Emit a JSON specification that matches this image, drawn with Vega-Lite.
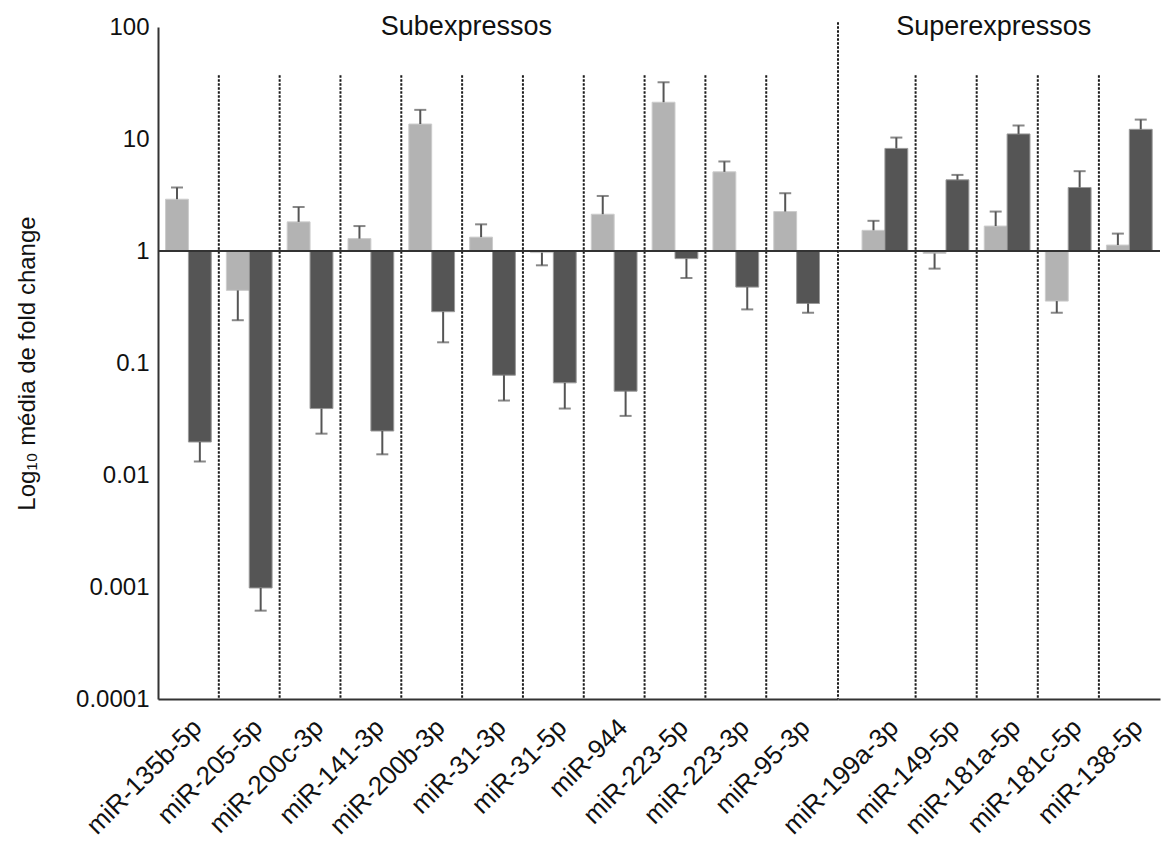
{
  "$schema": "https://vega.github.io/schema/vega-lite/v6.json",
  "padding": {"left": 15, "top": 13, "right": 0, "bottom": 5},
  "spacing": 0,
  "bounds": "flush",
  "config": {
    "font": "Liberation Sans",
    "view": {"stroke": null},
    "axis": {"grid": false, "ticks": false, "domainColor": "#333333", "domainWidth": 2, "labelColor": "#111111", "labelFontSize": 24, "titleFontSize": 24, "titleFontWeight": "normal", "titleColor": "#111111"}
  },
  "data": {"values": [
    {"mir": "miR-135b-5p", "section": "Sub", "group": "light", "value": 2.9, "err": 3.69},
    {"mir": "miR-135b-5p", "section": "Sub", "group": "dark", "value": 0.0197, "err": 0.0132},
    {"mir": "miR-205-5p", "section": "Sub", "group": "light", "value": 0.445, "err": 0.241},
    {"mir": "miR-205-5p", "section": "Sub", "group": "dark", "value": 0.00098, "err": 0.000615},
    {"mir": "miR-200c-3p", "section": "Sub", "group": "light", "value": 1.82, "err": 2.47},
    {"mir": "miR-200c-3p", "section": "Sub", "group": "dark", "value": 0.0392, "err": 0.0234},
    {"mir": "miR-141-3p", "section": "Sub", "group": "light", "value": 1.29, "err": 1.67},
    {"mir": "miR-141-3p", "section": "Sub", "group": "dark", "value": 0.0247, "err": 0.0153},
    {"mir": "miR-200b-3p", "section": "Sub", "group": "light", "value": 13.6, "err": 18.2},
    {"mir": "miR-200b-3p", "section": "Sub", "group": "dark", "value": 0.287, "err": 0.153},
    {"mir": "miR-31-3p", "section": "Sub", "group": "light", "value": 1.33, "err": 1.73},
    {"mir": "miR-31-3p", "section": "Sub", "group": "dark", "value": 0.0778, "err": 0.0462},
    {"mir": "miR-31-5p", "section": "Sub", "group": "light", "value": 0.967, "err": 0.745},
    {"mir": "miR-31-5p", "section": "Sub", "group": "dark", "value": 0.0665, "err": 0.0392},
    {"mir": "miR-944", "section": "Sub", "group": "light", "value": 2.13, "err": 3.1},
    {"mir": "miR-944", "section": "Sub", "group": "dark", "value": 0.056, "err": 0.0337},
    {"mir": "miR-223-5p", "section": "Sub", "group": "light", "value": 21.3, "err": 32.1},
    {"mir": "miR-223-5p", "section": "Sub", "group": "dark", "value": 0.855, "err": 0.574},
    {"mir": "miR-223-3p", "section": "Sub", "group": "light", "value": 5.09, "err": 6.3},
    {"mir": "miR-223-3p", "section": "Sub", "group": "dark", "value": 0.476, "err": 0.301},
    {"mir": "miR-95-3p", "section": "Sub", "group": "light", "value": 2.25, "err": 3.28},
    {"mir": "miR-95-3p", "section": "Sub", "group": "dark", "value": 0.34, "err": 0.281},
    {"mir": "miR-199a-3p", "section": "Super", "group": "light", "value": 1.53, "err": 1.86},
    {"mir": "miR-199a-3p", "section": "Super", "group": "dark", "value": 8.24, "err": 10.3},
    {"mir": "miR-149-5p", "section": "Super", "group": "light", "value": 0.95, "err": 0.696},
    {"mir": "miR-149-5p", "section": "Super", "group": "dark", "value": 4.32, "err": 4.78},
    {"mir": "miR-181a-5p", "section": "Super", "group": "light", "value": 1.67, "err": 2.25},
    {"mir": "miR-181a-5p", "section": "Super", "group": "dark", "value": 11.1, "err": 13.2},
    {"mir": "miR-181c-5p", "section": "Super", "group": "light", "value": 0.357, "err": 0.281},
    {"mir": "miR-181c-5p", "section": "Super", "group": "dark", "value": 3.69, "err": 5.16},
    {"mir": "miR-138-5p", "section": "Super", "group": "light", "value": 1.13, "err": 1.43},
    {"mir": "miR-138-5p", "section": "Super", "group": "dark", "value": 12.2, "err": 14.9}
  ]},
  "hconcat": [
    {
      "width": 680,
      "height": 672,
      "transform": [{"filter": "datum.section === 'Sub'"}],
      "layer": [
        {
          "transform": [{"filter": "datum.group === 'dark' && datum.mir !== 'miR-135b-5p'"}],
          "mark": {"type": "rule", "color": "#1a1a1a", "strokeWidth": 2, "strokeDash": [2.5, 1.5]},
          "encoding": {
            "x": {"field": "mir", "type": "nominal", "bandPosition": 0, "sort": ["miR-135b-5p", "miR-205-5p", "miR-200c-3p", "miR-141-3p", "miR-200b-3p", "miR-31-3p", "miR-31-5p", "miR-944", "miR-223-5p", "miR-223-3p", "miR-95-3p"], "scale": {"paddingInner": 0, "paddingOuter": 0.09, "align": 0}, "axis": {"title": null, "labelAngle": -45, "labelPadding": 15, "labelFontSize": 26}},
            "y": {"datum": 37, "type": "quantitative", "scale": {"type": "log", "domain": [0.0001, 100]}, "axis": {"values": [0.0001, 0.001, 0.01, 0.1, 1, 10, 100], "format": "~g", "labelPadding": 9, "title": "Log₁₀ média de fold change", "titlePadding": 36}},
            "y2": {"datum": 0.0001}
          }
        },
        {
          "mark": {"type": "bar", "strokeWidth": 1},
          "encoding": {
            "x": {"field": "mir", "type": "nominal", "sort": ["miR-135b-5p", "miR-205-5p", "miR-200c-3p", "miR-141-3p", "miR-200b-3p", "miR-31-3p", "miR-31-5p", "miR-944", "miR-223-5p", "miR-223-3p", "miR-95-3p"], "axis": {"title": null, "labelAngle": -45, "labelPadding": 15, "labelFontSize": 26}},
            "xOffset": {"field": "group", "type": "nominal", "sort": ["light", "dark"], "scale": {"paddingInner": 0, "paddingOuter": 0.33}},
            "y": {"field": "value", "type": "quantitative", "axis": {"values": [0.0001, 0.001, 0.01, 0.1, 1, 10, 100], "format": "~g", "labelPadding": 9, "title": "Log₁₀ média de fold change", "titlePadding": 36}},
            "y2": {"datum": 1},
            "color": {"field": "group", "type": "nominal", "scale": {"domain": ["light", "dark"], "range": ["#b3b3b3", "#555555"]}, "legend": null},
            "stroke": {"field": "group", "type": "nominal", "scale": {"domain": ["light", "dark"], "range": ["#cccccc", "#9a9a9a"]}, "legend": null}
          }
        },
        {
          "mark": {"type": "rule", "color": "#555555", "strokeWidth": 2},
          "encoding": {
            "x": {"field": "mir", "type": "nominal", "sort": ["miR-135b-5p", "miR-205-5p", "miR-200c-3p", "miR-141-3p", "miR-200b-3p", "miR-31-3p", "miR-31-5p", "miR-944", "miR-223-5p", "miR-223-3p", "miR-95-3p"], "axis": {"title": null, "labelAngle": -45, "labelPadding": 15, "labelFontSize": 26}},
            "xOffset": {"field": "group", "type": "nominal", "sort": ["light", "dark"], "scale": {"paddingInner": 0, "paddingOuter": 0.33}},
            "y": {"field": "value", "type": "quantitative", "axis": {"values": [0.0001, 0.001, 0.01, 0.1, 1, 10, 100], "format": "~g", "labelPadding": 9, "title": "Log₁₀ média de fold change", "titlePadding": 36}},
            "y2": {"field": "err"}
          }
        },
        {
          "mark": {"type": "tick", "color": "#555555", "size": 12, "thickness": 2, "orient": "horizontal"},
          "encoding": {
            "x": {"field": "mir", "type": "nominal", "sort": ["miR-135b-5p", "miR-205-5p", "miR-200c-3p", "miR-141-3p", "miR-200b-3p", "miR-31-3p", "miR-31-5p", "miR-944", "miR-223-5p", "miR-223-3p", "miR-95-3p"], "axis": {"title": null, "labelAngle": -45, "labelPadding": 15, "labelFontSize": 26}},
            "xOffset": {"field": "group", "type": "nominal", "sort": ["light", "dark"], "scale": {"paddingInner": 0, "paddingOuter": 0.33}},
            "y": {"field": "err", "type": "quantitative", "axis": {"values": [0.0001, 0.001, 0.01, 0.1, 1, 10, 100], "format": "~g", "labelPadding": 9, "title": "Log₁₀ média de fold change", "titlePadding": 36}}
          }
        },
        {
          "transform": [{"aggregate": [{"op": "count", "as": "n"}]}],
          "mark": {"type": "rule", "color": "#333333", "strokeWidth": 2},
          "encoding": {"y": {"datum": 1, "type": "quantitative", "axis": {"values": [0.0001, 0.001, 0.01, 0.1, 1, 10, 100], "format": "~g", "labelPadding": 9, "title": "Log₁₀ média de fold change", "titlePadding": 36}}}
        },
        {
          "transform": [{"aggregate": [{"op": "count", "as": "n"}]}],
          "mark": {"type": "rule", "color": "#1a1a1a", "strokeWidth": 2, "strokeDash": [2.5, 1.5]},
          "encoding": {"x": {"value": "width"}, "y": {"datum": 110, "type": "quantitative", "axis": {"values": [0.0001, 0.001, 0.01, 0.1, 1, 10, 100], "format": "~g", "labelPadding": 9, "title": "Log₁₀ média de fold change", "titlePadding": 36}}, "y2": {"datum": 0.0001}}
        },
        {
          "transform": [{"aggregate": [{"op": "count", "as": "n"}]}],
          "mark": {"type": "text", "fontSize": 27, "color": "#111111", "align": "center", "baseline": "middle"},
          "encoding": {"x": {"datum": "miR-31-3p", "bandPosition": 0.07, "axis": {"title": null, "labelAngle": -45, "labelPadding": 15, "labelFontSize": 26}}, "y": {"datum": 100, "type": "quantitative", "axis": {"values": [0.0001, 0.001, 0.01, 0.1, 1, 10, 100], "format": "~g", "labelPadding": 9, "title": "Log₁₀ média de fold change", "titlePadding": 36}}, "text": {"value": "Subexpressos"}}
        }
      ]
    },
    {
      "width": 322,
      "height": 672,
      "transform": [{"filter": "datum.section === 'Super'"}],
      "layer": [
        {
          "transform": [{"filter": "datum.group === 'dark' && datum.mir !== 'miR-199a-3p'"}],
          "mark": {"type": "rule", "color": "#1a1a1a", "strokeWidth": 2, "strokeDash": [2.5, 1.5]},
          "encoding": {
            "x": {"field": "mir", "type": "nominal", "bandPosition": 0, "sort": ["miR-199a-3p", "miR-149-5p", "miR-181a-5p", "miR-181c-5p", "miR-138-5p"], "scale": {"paddingInner": 0, "paddingOuter": 0.135, "align": 1}, "axis": {"title": null, "labelAngle": -45, "labelPadding": 15, "labelFontSize": 26}},
            "y": {"datum": 37, "type": "quantitative", "scale": {"type": "log", "domain": [0.0001, 100]}, "axis": null},
            "y2": {"datum": 0.0001}
          }
        },
        {
          "mark": {"type": "bar", "strokeWidth": 1},
          "encoding": {
            "x": {"field": "mir", "type": "nominal", "sort": ["miR-199a-3p", "miR-149-5p", "miR-181a-5p", "miR-181c-5p", "miR-138-5p"], "axis": {"title": null, "labelAngle": -45, "labelPadding": 15, "labelFontSize": 26}},
            "xOffset": {"field": "group", "type": "nominal", "sort": ["light", "dark"], "scale": {"paddingInner": 0, "paddingOuter": 0.33}},
            "y": {"field": "value", "type": "quantitative", "axis": null},
            "y2": {"datum": 1},
            "color": {"field": "group", "type": "nominal", "scale": {"domain": ["light", "dark"], "range": ["#b3b3b3", "#555555"]}, "legend": null},
            "stroke": {"field": "group", "type": "nominal", "scale": {"domain": ["light", "dark"], "range": ["#cccccc", "#9a9a9a"]}, "legend": null}
          }
        },
        {
          "mark": {"type": "rule", "color": "#555555", "strokeWidth": 2},
          "encoding": {
            "x": {"field": "mir", "type": "nominal", "sort": ["miR-199a-3p", "miR-149-5p", "miR-181a-5p", "miR-181c-5p", "miR-138-5p"], "axis": {"title": null, "labelAngle": -45, "labelPadding": 15, "labelFontSize": 26}},
            "xOffset": {"field": "group", "type": "nominal", "sort": ["light", "dark"], "scale": {"paddingInner": 0, "paddingOuter": 0.33}},
            "y": {"field": "value", "type": "quantitative", "axis": null},
            "y2": {"field": "err"}
          }
        },
        {
          "mark": {"type": "tick", "color": "#555555", "size": 12, "thickness": 2, "orient": "horizontal"},
          "encoding": {
            "x": {"field": "mir", "type": "nominal", "sort": ["miR-199a-3p", "miR-149-5p", "miR-181a-5p", "miR-181c-5p", "miR-138-5p"], "axis": {"title": null, "labelAngle": -45, "labelPadding": 15, "labelFontSize": 26}},
            "xOffset": {"field": "group", "type": "nominal", "sort": ["light", "dark"], "scale": {"paddingInner": 0, "paddingOuter": 0.33}},
            "y": {"field": "err", "type": "quantitative", "axis": null}
          }
        },
        {
          "transform": [{"aggregate": [{"op": "count", "as": "n"}]}],
          "mark": {"type": "rule", "color": "#333333", "strokeWidth": 2},
          "encoding": {"y": {"datum": 1, "type": "quantitative", "axis": null}}
        },
        {
          "transform": [{"aggregate": [{"op": "count", "as": "n"}]}],
          "mark": {"type": "text", "fontSize": 27, "color": "#111111", "align": "center", "baseline": "middle"},
          "encoding": {"x": {"datum": "miR-181a-5p", "bandPosition": 0.28, "axis": {"title": null, "labelAngle": -45, "labelPadding": 15, "labelFontSize": 26}}, "y": {"datum": 100, "type": "quantitative", "axis": null}, "text": {"value": "Superexpressos"}}
        }
      ]
    }
  ]
}
